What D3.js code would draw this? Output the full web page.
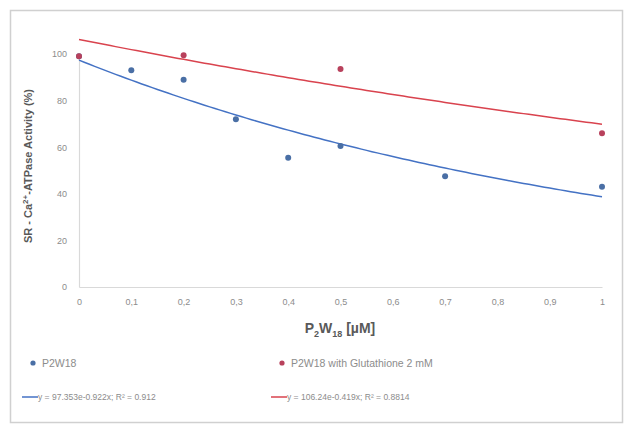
<!DOCTYPE html>
<html>
<head>
<meta charset="utf-8">
<script src="https://cdn.jsdelivr.net/npm/d3@7"></script>
<style>
  body { margin: 0; background: #fff; }
  text { font-family: "Liberation Sans", Arial, sans-serif; }
</style>
</head>
<body>
<svg id="chart" width="633" height="425"></svg>
<script>
// data
const xTicks = [0, 0.1, 0.2, 0.3, 0.4, 0.5, 0.6, 0.7, 0.8, 0.9, 1]
const yTicks = [0, 20, 40, 60, 80, 100]

const p2w18X = [0, 0.1, 0.2, 0.3, 0.4, 0.5, 0.7, 1]
const p2w18Y = [99, 93, 89, 72, 55.5, 60.5, 47.5, 43]

const glutX = [0, 0.2, 0.5, 1]
const glutY = [99, 99.5, 93.6, 66]

// exponential trend lines from the legend
const blueFit = { a: 97.353, b: -0.922, label: "y = 97.353e-0.922x; R² = 0.912" }
const redFit = { a: 106.24, b: -0.419, label: "y = 106.24e-0.419x; R² = 0.8814" }

const blue = "#4472c4"
const red = "#d9434e"
const bluePt = "#4a6fa5"
const redPt = "#b8415c"

let svg = d3.select("#chart")

// outer frame
svg.append("rect")
    .attr("x", 10.5).attr("y", 10.5)
    .attr("width", 612).attr("height", 412)
    .attr("fill", "#fff")
    .attr("stroke", "#d0d0d0")
    .attr("stroke-width", 1.5)

let xScale = d3.scaleLinear().domain([0, 1]).range([79, 602])
let yScale = d3.scaleLinear().domain([0, 100]).range([287, 54])

// axes
svg.append("g")
    .attr("transform", `translate(0, ${yScale(0)})`)
    .call(d3.axisBottom(xScale).tickValues(xTicks).tickSize(0).tickPadding(12)
        .tickFormat(d => String(d).replace(".", ",")))
svg.append("g")
    .attr("transform", `translate(${xScale(0)}, 0)`)
    .call(d3.axisLeft(yScale).tickValues(yTicks).tickSize(0).tickPadding(12))

svg.selectAll(".domain").attr("stroke", "#d9d9d9").attr("stroke-width", 1.2)
svg.selectAll(".tick text")
    .attr("fill", "#8c8c8c")
    .style("font-size", "9px")

// trend lines
function trend(fit) {
    return d3.range(0, 101).map(i => [i / 100, fit.a * Math.exp(fit.b * i / 100)])
}
let line = d3.line().x(d => xScale(d[0])).y(d => yScale(d[1]))

svg.append("path").datum(trend(redFit))
    .attr("d", line).attr("fill", "none")
    .attr("stroke", red).attr("stroke-width", 1.5)
svg.append("path").datum(trend(blueFit))
    .attr("d", line).attr("fill", "none")
    .attr("stroke", blue).attr("stroke-width", 1.5)

// points
svg.selectAll(".pb").data(p2w18X).enter().append("circle")
    .attr("cx", d => xScale(d))
    .attr("cy", (d, i) => yScale(p2w18Y[i]))
    .attr("r", 3).attr("fill", bluePt)
svg.selectAll(".pr").data(glutX).enter().append("circle")
    .attr("cx", d => xScale(d))
    .attr("cy", (d, i) => yScale(glutY[i]))
    .attr("r", 3).attr("fill", redPt)

// axis titles
let yTitle = svg.append("text")
    .attr("transform", "translate(32, 166) rotate(-90)")
    .attr("text-anchor", "middle")
    .attr("fill", "#595959")
    .style("font-size", "11px")
    .style("font-weight", "bold")
yTitle.append("tspan").text("SR - Ca")
yTitle.append("tspan").text("2+").attr("dy", -4).style("font-size", "8px")
yTitle.append("tspan").text("-ATPase Activity (%)").attr("dy", 4)

let xTitle = svg.append("text")
    .attr("x", 340).attr("y", 333)
    .attr("text-anchor", "middle")
    .attr("fill", "#595959")
    .style("font-size", "14px")
    .style("font-weight", "bold")
xTitle.append("tspan").text("P")
xTitle.append("tspan").text("2").attr("dy", 4).style("font-size", "9px")
xTitle.append("tspan").text("W").attr("dy", -4)
xTitle.append("tspan").text("18").attr("dy", 4).style("font-size", "9px")
xTitle.append("tspan").text(" [µM]").attr("dy", -4)

// legend
let legend = [
    { x: 33, label: "P2W18", color: bluePt, fit: blueFit, lc: blue },
    { x: 282, label: "P2W18 with Glutathione 2 mM", color: redPt, fit: redFit, lc: red }
]
legend.forEach(l => {
    svg.append("circle").attr("cx", l.x).attr("cy", 363).attr("r", 2.6).attr("fill", l.color)
    svg.append("text").attr("x", l.x + 9).attr("y", 367)
        .attr("fill", "#8c8c8c").style("font-size", "10.5px").text(l.label)
    svg.append("line")
        .attr("x1", l.x - 11).attr("x2", l.x + 5)
        .attr("y1", 397).attr("y2", 397)
        .attr("stroke", l.lc).attr("stroke-width", 1.5)
    svg.append("text").attr("x", l.x + 5).attr("y", 400)
        .attr("fill", "#8c8c8c").style("font-size", "8.5px").text(l.fit.label)
})
</script>
</body>
</html>
